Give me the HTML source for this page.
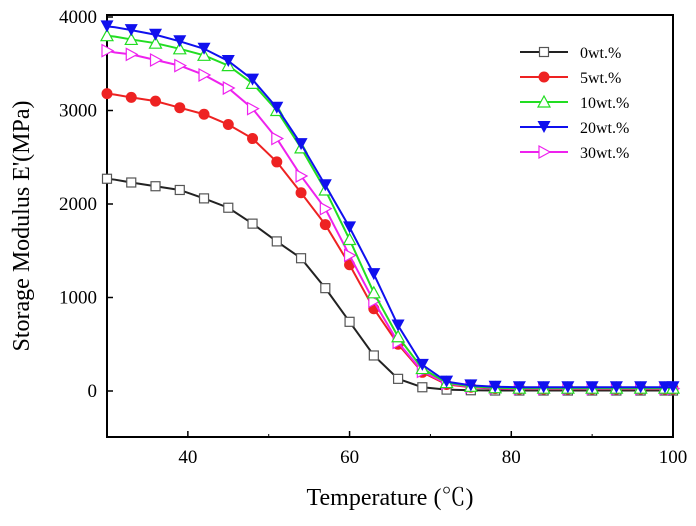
<!DOCTYPE html>
<html><head><meta charset="utf-8"><style>
body{margin:0;background:#fff;width:696px;height:521px;overflow:hidden}
svg text{font-family:"Liberation Serif","Noto Serif CJK SC",serif}
</style></head><body>
<svg id="chart" width="696" height="521" xmlns="http://www.w3.org/2000/svg"></svg>
<script>
const xs=[30,31,33,36,39,42,45,48,51,54,57,60,63,66,69,72,75,78,81,84,87,90,93,96,99,100];
const s0=[2270,2260,2230,2190,2150,2060,1960,1790,1600,1420,1100,740,380,130,40,15,8,5,5,5,5,5,5,5,5,5];
const s5=[3180,3170,3140,3100,3030,2960,2850,2700,2450,2120,1780,1350,880,500,200,70,40,25,20,20,20,20,20,20,20,20];
const s10=[3800,3790,3760,3720,3660,3590,3480,3290,3000,2600,2150,1620,1050,580,240,90,50,35,30,30,30,30,30,30,30,30];
const s20=[3900,3890,3860,3810,3740,3660,3530,3330,3030,2640,2200,1750,1250,700,280,100,60,45,40,40,40,40,40,40,40,40];
const s30=[3640,3620,3600,3540,3480,3380,3240,3020,2700,2300,1950,1450,960,520,210,80,45,30,25,25,25,25,25,25,25,25];
const xTicks=[40,60,80,100];
const yTicks=[0,1000,2000,3000,4000];
const names=["0wt.%","5wt.%","10wt.%","20wt.%","30wt.%"];
const L=107,R=673,T=15,B=437;
const X=v=>L+(v-30)/70*(R-L);
const Y=v=>391-v*0.0935;
const svg=document.getElementById('chart');
const NS="http://www.w3.org/2000/svg";
function mk(tag,attrs,parent){const e=document.createElementNS(NS,tag);for(const k in attrs)e.setAttribute(k,attrs[k]);(parent||svg).appendChild(e);return e;}
let fr=mk('rect',{x:L,y:T,width:R-L,height:B-T,fill:'none',stroke:'#000','stroke-width':2});


xTicks.forEach(v=>{let t=mk('line',{x1:X(v),x2:X(v),y1:B,y2:B-6,stroke:'#000','stroke-width':1.5});


let l=mk('text',{x:X(v),y:B+26,'text-anchor':'middle','font-size':19});l.textContent=v;

});
[50,70,90].forEach(v=>{mk('line',{x1:X(v),x2:X(v),y1:B,y2:B-3,stroke:'#000','stroke-width':1});});
yTicks.forEach(v=>{let t=mk('line',{x1:L,x2:L+6,y1:Y(v),y2:Y(v),stroke:'#000','stroke-width':1.5});


let l=mk('text',{x:L-10,y:Y(v)+6,'text-anchor':'end','font-size':19});l.textContent=v;

});
let xt=mk('text',{x:390,y:505,'text-anchor':'middle','font-size':24});xt.textContent="Temperature (℃)";


let yt=mk('text',{x:0,y:0,'text-anchor':'middle','font-size':24,transform:'translate(29,226) rotate(-90)'});yt.textContent="Storage Modulus E'(MPa)";


function marker(g,type,color,x,y){
 if(type==='sq')return mk('rect',{x:x-4.5,y:y-4.5,width:9,height:9,fill:'#fff',stroke:'#555','stroke-width':1.2},g);
 if(type==='ci')return mk('circle',{cx:x,cy:y,r:5.5,fill:color},g);
 if(type==='up')return mk('polygon',{points:`${x},${y-6} ${x-6},${y+5} ${x+6},${y+5}`,fill:'#fff',stroke:color,'stroke-width':1.2},g);
 if(type==='dn')return mk('polygon',{points:`${x-6.5},${y-6} ${x+6.5},${y-6} ${x},${y+6}`,fill:color},g);
 return mk('polygon',{points:`${x-5},${y-6} ${x+6},${y} ${x-5},${y+6}`,fill:'#fff',stroke:color,'stroke-width':1.2},g);
}
const series=[[s0,'#222','sq'],[s5,'#ee2222','ci'],[s10,'#22dd22','up'],[s20,'#1010ee','dn'],[s30,'#ee22ee','ri']];
const order=[0,1,4,2,3];
order.forEach(i=>{const [d,c,m]=series[i];
 const g=mk('g',{});
 
 
 mk('polyline',{points:xs.map((x,j)=>X(x)+','+Y(d[j])).join(' '),fill:'none',stroke:c,'stroke-width':2},g);
 xs.forEach((x,j)=>{if(x===31)return;marker(g,m,c,X(x),Y(d[j]));});
});
series.forEach(([d,c,m],i)=>{const y=52+i*25;
 const g=mk('g',{});
 
 
 mk('line',{x1:520,x2:568,y1:y,y2:y,stroke:c,'stroke-width':2},g);
 marker(g,m,c,544,y);
 const t=mk('text',{x:580,y:y+6,'font-size':16},g);t.textContent=names[i];
});
</script>
</body></html>
